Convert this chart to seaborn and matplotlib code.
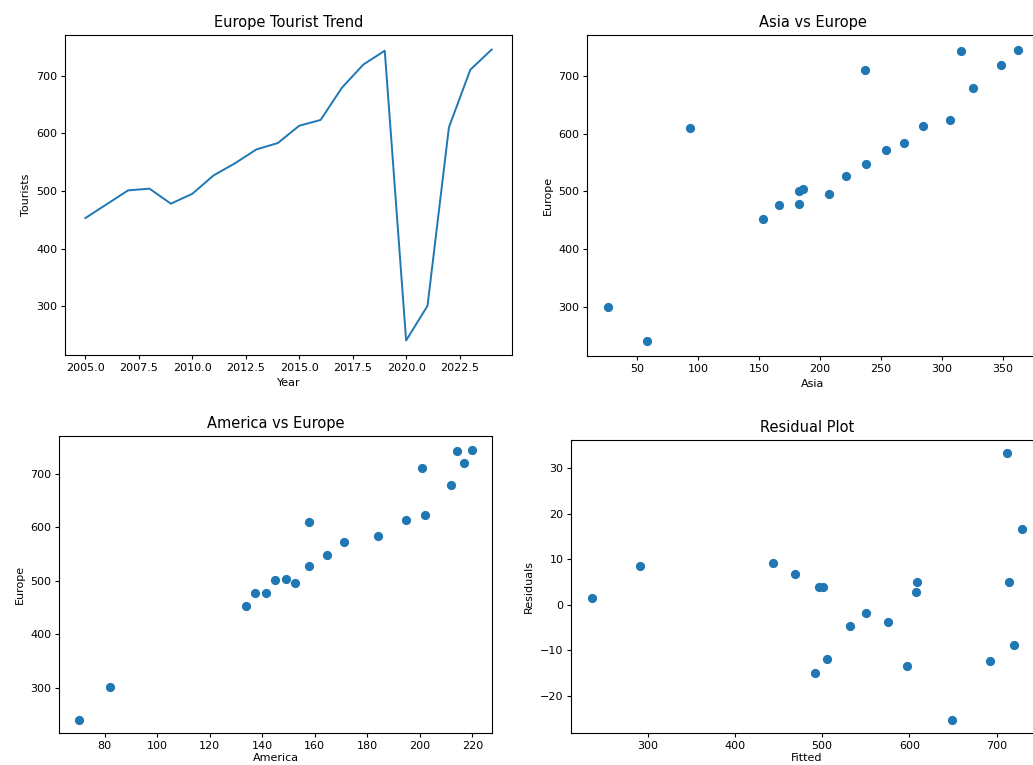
import numpy as np
import pandas as pd
import matplotlib
matplotlib.use("Agg")
import matplotlib.pyplot as plt
import seaborn as sns

# datos
years = list(range(2005, 2025))
europe = [453, 477, 501, 504, 478, 495, 527, 548, 572, 583,
          613, 623, 679, 719, 743, 241, 301, 610, 710, 745]
asia = [153, 166, 183, 186, 183, 207, 221, 238, 254, 269,
        285, 307, 326, 349, 316, 58, 25.5, 93, 237, 363]
america = [133.9, 137.3, 144.9, 148.9, 141.5, 152.5, 157.9, 164.5, 171.0, 184.1,
           194.8, 202.1, 211.8, 216.7, 214.3, 70.1, 81.9, 157.9, 200.7, 220.0]

# modelo Europe ~ Asia + America (valores ajustados y residuos leidos)
fitted = [443.9, 469.1, 495.8, 500.4, 492.0, 506.1, 532.4, 550.0, 576.0, 597.0,
          608.8, 649.2, 692.0, 714.5, 711.5, 236.6, 291.2, 607.6, 719.8, 728.6]
residuals = [9.1, 6.8, 4.0, 4.0, -15.0, -11.9, -4.7, -1.9, -3.7, -13.5,
             5.1, -25.3, -12.4, 4.9, 33.3, 1.4, 8.6, 2.9, -8.9, 16.6]

df = pd.DataFrame({"Year": years, "Europe": europe, "Asia": asia,
                   "America": america, "Fitted": fitted, "Residuals": residuals})

W, H = 1033, 765
fig = plt.figure(figsize=(W / 100, H / 100), dpi=100)

def ax_px(left, top, right, bottom):
    # posicion de los ejes en pixeles de la captura
    return fig.add_axes([left / W, 1 - bottom / H, (right - left) / W, (bottom - top) / H])

ax1 = ax_px(65, 35, 512, 355)
ax2 = ax_px(587, 35, 1039, 356)
ax3 = ax_px(59, 436, 492, 733)
ax4 = ax_px(571, 440, 1043, 733)

title_fs = 10.5
lab_fs = 8
tick_fs = 8
blue = "#1f77b4"
pt_kw = dict(color=blue, s=44, linewidth=0)

sns.lineplot(data=df, x="Year", y="Europe", ax=ax1, color=blue, linewidth=1.4)
ax1.set_title("Europe Tourist Trend", fontsize=title_fs)
ax1.set_xlabel("Year", fontsize=lab_fs)
ax1.set_ylabel("Tourists", fontsize=lab_fs)

sns.scatterplot(data=df, x="Asia", y="Europe", ax=ax2, **pt_kw)
ax2.set_title("Asia vs Europe", fontsize=title_fs)
ax2.set_xlabel("Asia", fontsize=lab_fs)
ax2.set_ylabel("Europe", fontsize=lab_fs)

sns.scatterplot(data=df, x="America", y="Europe", ax=ax3, **pt_kw)
ax3.set_title("America vs Europe", fontsize=title_fs)
ax3.set_xlabel("America", fontsize=lab_fs, labelpad=1.5)
ax3.set_ylabel("Europe", fontsize=lab_fs)

sns.scatterplot(data=df, x="Fitted", y="Residuals", ax=ax4, **pt_kw)
ax4.set_title("Residual Plot", fontsize=title_fs)
ax4.set_xlabel("Fitted", fontsize=lab_fs, labelpad=1.5)
ax4.set_ylabel("Residuals", fontsize=lab_fs)

for ax in (ax1, ax2, ax3, ax4):
    ax.tick_params(labelsize=tick_fs, length=3, pad=2.5)

fig.savefig("out.png", dpi=100)
